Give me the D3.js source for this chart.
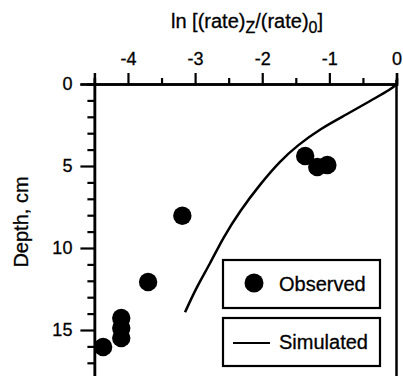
<!DOCTYPE html>
<html>
<head>
<meta charset="utf-8">
<script src="https://cdn.jsdelivr.net/npm/d3@7"></script>
<style>
  body { margin: 0; background: #fff; }
  svg { display: block; font-family: "Liberation Sans", Arial, sans-serif; }
  text { stroke: #000; stroke-width: 0.3px; }
</style>
</head>
<body>
<div id="viz"></div>
<script>
/***************** Data *********************/
var obsRate  = [-1.36, -1.18, -1.03, -3.19, -3.70, -4.10, -4.10, -4.10, -4.37];
var obsDepth = [ 4.39,  5.06,  4.94,  8.03, 12.07, 14.27, 14.88, 15.49, 16.04];

var simRate  = [0, -0.07, -0.39, -0.73, -1.14, -1.48, -1.73, -2.03, -2.33, -2.58, -2.78, -2.98, -3.15];
var simDepth = [0,  0.30,  1.02,  1.83,  2.74,  3.76,  4.68,  6.10,  7.73,  9.35, 10.98, 12.40, 13.92];

var xTicks = [-4, -3, -2, -1, 0];
var xMinor = [-4.5, -3.5, -2.5, -1.5, -0.5];
var yTicks = [0, 5, 10, 15];
var yMinor = [1, 2, 3, 4, 6, 7, 8, 9, 11, 12, 13, 14, 16, 17];

var legendLabels = ["Observed", "Simulated"];

/***************** Build Plot *********************/
var w = 403, h = 376;

var svg = d3.select("#viz")
  .append("svg")
  .attr("width", w)
  .attr("height", h);

var x = d3.scaleLinear().domain([-4.5, 0]).range([94.4, 396.5]);
var y = d3.scaleLinear().domain([0, 18]).range([84, 84 + 18 * 16.4]);

/* X axis on top */
var xAxis = d3.axisTop(x).tickValues(xTicks).tickSize(11).tickPadding(8)
  .tickFormat(function(d) { return String(d); });
var xAxisMinor = d3.axisTop(x).tickValues(xMinor).tickSize(6).tickFormat("");

svg.append("g")
  .attr("transform", "translate(0," + y(0) + ")")
  .call(xAxis);
svg.append("g")
  .attr("transform", "translate(0," + y(0) + ")")
  .call(xAxisMinor);

/* Y axis */
var yAxis = d3.axisLeft(y).tickValues(yTicks).tickSize(14).tickPadding(8);
var yAxisMinor = d3.axisLeft(y).tickValues(yMinor).tickSize(7).tickFormat("");

svg.append("g")
  .attr("transform", "translate(" + x(-4.5) + ",0)")
  .call(yAxis);
svg.append("g")
  .attr("transform", "translate(" + x(-4.5) + ",0)")
  .call(yAxisMinor);

svg.selectAll(".domain").attr("stroke", "#000").attr("stroke-width", 2.5);
svg.selectAll(".tick line").attr("stroke", "#000").attr("stroke-width", 2.2);
svg.selectAll(".tick text")
  .attr("fill", "#000")
  .style("font-size", "18px")
  .style("font-family", "'Liberation Sans', Arial, sans-serif");

/* right frame */
svg.append("line")
  .attr("x1", x(0)).attr("x2", x(0))
  .attr("y1", y(0) - 4).attr("y2", h)
  .attr("stroke", "#000")
  .attr("stroke-width", 2.5);

/* Title */
var title = svg.append("text")
  .attr("x", 247)
  .attr("y", 28)
  .attr("text-anchor", "middle")
  .style("font-size", "20px");
title.append("tspan").text("ln [(rate)");
title.append("tspan").attr("dy", 5).style("font-size", "16px").text("Z");
title.append("tspan").attr("dy", -5).text("/(rate)");
title.append("tspan").attr("dy", 5).style("font-size", "16px").text("0");
title.append("tspan").attr("dy", -5).text("]");

/* Y label */
svg.append("text")
  .attr("transform", "translate(28," + 222 + ") rotate(-90)")
  .attr("text-anchor", "middle")
  .style("font-size", "20px")
  .text("Depth, cm");

/* Simulated line */
var simData = simRate.map(function(d, i) { return [d, simDepth[i]]; });
var line = d3.line()
  .x(function(d) { return x(d[0]); })
  .y(function(d) { return y(d[1]); })
  .curve(d3.curveBasis);

svg.append("path")
  .datum(simData)
  .attr("d", line)
  .attr("fill", "none")
  .attr("stroke", "#000")
  .attr("stroke-width", 2.5);

/* Observed points */
var obsData = obsRate.map(function(d, i) { return [d, obsDepth[i]]; });
svg.selectAll("circle.obs")
  .data(obsData)
  .enter()
  .append("circle")
  .attr("class", "obs")
  .attr("cx", function(d) { return x(d[0]); })
  .attr("cy", function(d) { return y(d[1]); })
  .attr("r", 9.2)
  .attr("fill", "#000");

/* Legend */
var legend = svg.append("g");
var boxes = legend.selectAll("g")
  .data(legendLabels)
  .enter()
  .append("g")
  .attr("transform", function(d, i) { return "translate(223," + (260 + i * 58) + ")"; });

boxes.append("rect")
  .attr("width", 157)
  .attr("height", 48)
  .attr("fill", "#fff")
  .attr("stroke", "#000")
  .attr("stroke-width", 2.2);

boxes.append("text")
  .attr("x", 56)
  .attr("y", 31)
  .style("font-size", "20px")
  .text(function(d) { return d; });

boxes.filter(function(d, i) { return i === 0; })
  .append("circle")
  .attr("cx", 31)
  .attr("cy", 23)
  .attr("r", 9.5)
  .attr("fill", "#000");

boxes.filter(function(d, i) { return i === 1; })
  .append("line")
  .attr("x1", 10).attr("x2", 47)
  .attr("y1", 25).attr("y2", 25)
  .attr("stroke", "#000")
  .attr("stroke-width", 2.2);
</script>
</body>
</html>
